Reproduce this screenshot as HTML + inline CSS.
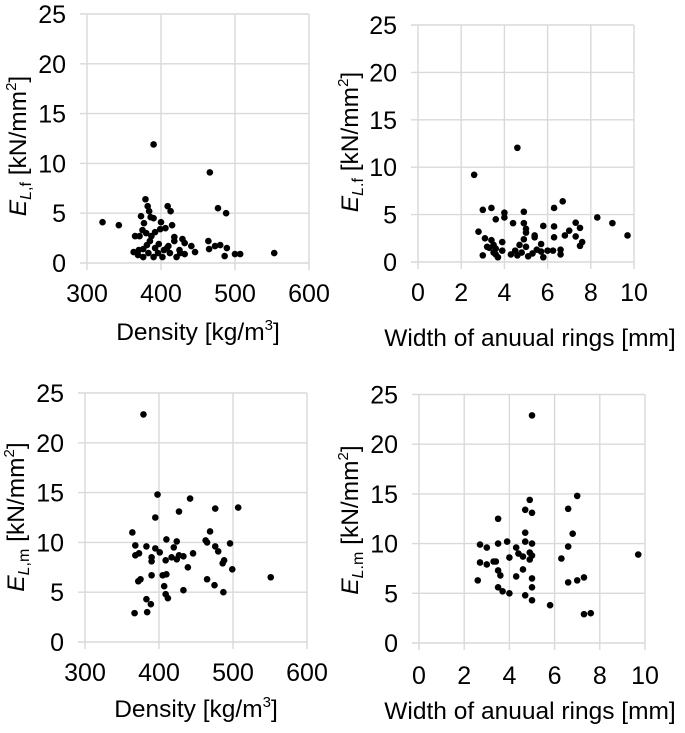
<!DOCTYPE html>
<html><head><meta charset="utf-8"><style>
html,body{margin:0;padding:0;background:#fff;}
svg{display:block;font-family:"Liberation Sans",Arial,sans-serif;}
</style></head><body>
<svg id="chart" width="685" height="733" viewBox="0 0 685 733"></svg>
<script>
// Panel A: density vs E_L,f
const densityA = [390,466,379,382,384,409,413,477,488,321,343,373,377,386,390,400,399,406,415,375,365,371,387,385,418,418,429,432,441,446,464,465,473,480,489,486,500,507,553,397,381,363,369,376,383,390,396,402,408,412,421,426,432,376,392,380,392,370,404,425,410];
const eLfA = [11.9,9.1,6.4,5.7,5.2,5.7,5.2,5.5,5.0,4.1,3.8,4.7,4.0,4.6,4.5,4.1,3.4,3.5,3.8,3.3,2.7,2.7,2.7,2.2,2.6,2.2,2.4,2.0,1.7,1.1,2.2,1.4,1.7,1.8,1.5,0.7,0.9,0.9,1.0,1.9,1.8,1.1,0.8,0.6,1.0,0.6,1.0,0.6,1.5,1.0,0.6,1.0,0.9,1.4,1.5,3.0,3.1,1.3,1.3,1.3,1.7];
// Panel B: ring width vs E_L,f
const ringB = [4.6,2.6,6.7,6.3,3.0,3.4,4.9,4.0,4.0,3.6,4.4,4.9,5.0,5.0,5.8,6.3,7.3,7.5,7.0,6.8,6.3,7.3,7.6,7.5,8.3,9.0,9.7,2.8,3.1,3.4,3.9,5.4,5.4,4.9,5.7,3.0,3.3,3.6,3.7,3.9,4.5,4.6,5.0,5.3,5.5,5.7,5.8,6.0,6.25,6.6,6.6,3.5,4.7,3.5,3.6,4.3,4.8,5.1,3.2];
const eLfB = [12.05,9.2,6.4,5.7,5.5,5.7,5.3,5.2,4.7,4.5,4.1,4.1,3.5,3.1,3.8,3.75,4.15,3.6,3.3,2.8,2.6,2.7,2.1,1.7,4.7,4.1,2.8,3.2,2.5,2.3,2.1,2.8,2.6,2.4,1.9,0.7,1.5,1.4,0.5,1.2,1.2,0.7,1.6,0.9,1.3,1.1,0.5,1.2,1.2,1.3,0.8,1.8,1.8,1.0,0.8,0.8,1.0,0.6,1.6];
// Panel C: density vs E_L,m
const densityC = [379,398,442,427,476,507,395,364,469,368,383,395,401,410,424,420,368,373,390,390,417,424,427,433,446,409,463,465,476,480,496,488,486,439,499,390,405,410,372,375,465,475,551,407,433,487,409,412,383,389,384,367];
const eLmC = [22.85,14.8,14.4,13.1,13.4,13.5,12.5,11.0,11.1,9.7,9.6,9.4,9.0,10.3,10.1,9.5,8.7,8.9,8.5,8.1,8.5,8.3,8.7,8.6,8.9,8.2,10.2,10.0,9.6,9.1,9.9,8.2,7.9,7.5,7.3,6.7,6.7,6.8,6.1,6.3,6.3,5.7,6.5,5.6,5.2,5.0,4.8,4.4,4.3,3.8,3.0,2.9];
// Panel D: ring width vs E_L,m
const ringD = [5.0,7.0,4.9,4.7,5.0,6.6,3.5,4.7,6.8,4.7,5.0,3.9,3.5,2.7,3.0,6.6,4.3,4.4,4.6,4.9,5.0,4.9,4.0,6.3,9.7,2.7,3.0,3.3,3.4,4.6,3.5,3.6,4.3,5.0,7.3,7.0,6.6,2.6,3.5,3.7,4.0,5.0,4.7,5.0,5.8,7.3,7.6];
const eLmD = [22.9,14.8,14.4,13.4,13.1,13.5,12.5,11.1,11.0,10.2,10.0,10.2,10.0,9.9,9.6,9.7,9.6,9.0,8.7,9.1,8.8,8.4,8.6,8.5,8.9,8.1,7.9,8.2,8.2,7.4,7.3,6.8,6.7,6.5,6.6,6.3,6.1,6.3,5.6,5.2,5.0,5.6,4.8,4.3,3.8,2.9,3.0];
const yTicks = [0,5,10,15,20,25];
const densityTicks = [300,400,500,600];
const ringTicks = [0,2,4,6,8,10];

const NS = "http://www.w3.org/2000/svg";
const svg = document.getElementById("chart");
function mk(tag, attrs, parent){
  const e = document.createElementNS(NS, tag);
  for (const k in attrs) e.setAttribute(k, attrs[k]);
  (parent||svg).appendChild(e);
  return e;
}
const panels = [
  {id:"a", xs:densityA, ys:eLfA, xt:densityTicks, xmin:300, xmax:600, px0:87, px1:309, py0:263, py1:14, lblOff:30, titleOff:68, yTx:17, yTy:146, xTitle:"Density [kg/m", sup:"3", xTitleX:198, sub:"L,f", gap:" "},
  {id:"b", xs:ringB, ys:eLfB, xt:ringTicks, xmin:0, xmax:10, px0:418, px1:634, py0:262, py1:25, lblOff:30, titleOff:75, yTx:349, yTy:142, xTitle:"Width of anuual rings [mm]", sup:"", xTitleX:530, sub:"L.f", gap:"  "},
  {id:"c", xs:densityC, ys:eLmC, xt:densityTicks, xmin:300, xmax:600, px0:85, px1:307, py0:642, py1:393, lblOff:30, titleOff:66, yTx:15, yTy:517, xTitle:"Density [kg/m", sup:"3", xTitleX:196, sub:"L,m", gap:" "},
  {id:"d", xs:ringD, ys:eLmD, xt:ringTicks, xmin:0, xmax:10, px0:419, px1:645, py0:643, py1:394.5, lblOff:32, titleOff:67, yTx:349, yTy:520, xTitle:"Width of anuual rings [mm]", sup:"", xTitleX:530, sub:"L.m", gap:" "}
];
panels.forEach(p=>{
  const g = mk("g",{});
  
  
  const X = v => p.px0 + (v - p.xmin)/(p.xmax - p.xmin)*(p.px1 - p.px0);
  const Y = v => p.py0 + v/25*(p.py1 - p.py0);
  yTicks.forEach(t=>{
    const l = mk("line",{x1:p.px0-7,x2:p.px1,y1:Y(t),y2:Y(t),stroke:"#d9d9d9","stroke-width":1.4},g);
    
    
    const tx = mk("text",{x:p.px0-21,y:Y(t)+9,"text-anchor":"end","font-size":25,fill:"#000"},g);
    tx.textContent = t;
    
    
  });
  p.xt.forEach(t=>{
    const l = mk("line",{x1:X(t),x2:X(t),y1:p.py1,y2:p.py0+7,stroke:"#d9d9d9","stroke-width":1.4},g);
    
    
    const tx = mk("text",{x:X(t),y:p.py0+p.lblOff+9,"text-anchor":"middle","font-size":25,fill:"#000"},g);
    tx.textContent = t;
    
    
  });
  p.xs.forEach((v,i)=>{
    const c = mk("circle",{cx:X(v),cy:Y(p.ys[i]),r:3.3,fill:"#000"},g);
    
    
  });
  const xt = mk("text",{x:p.xTitleX,y:p.py0+p.titleOff+9,"text-anchor":"middle","font-size":24.5,fill:"#000"},g);
  
  
  xt.appendChild(document.createTextNode(p.xTitle));
  if (p.sup){
    const s = mk("tspan",{"font-size":15,dy:-10},xt); s.textContent = p.sup;
    const e = mk("tspan",{dy:10},xt); e.textContent = "]";
  }
  const yt = mk("text",{transform:`translate(${p.yTx+9},${p.yTy}) rotate(-90)`,"text-anchor":"middle","font-size":24.5,fill:"#000"},g);
  
  
  const e1 = mk("tspan",{"font-style":"italic"},yt); e1.textContent = "E";
  const e2 = mk("tspan",{"font-size":16,dy:5,"font-style":"italic"},yt); e2.textContent = p.sub.charAt(0);
  const e3 = mk("tspan",{"font-size":16},yt); e3.textContent = p.sub.slice(1);
  const e4 = mk("tspan",{dy:-5},yt); e4.textContent = p.gap + "[kN/mm";
  const e5 = mk("tspan",{"font-size":15,dy:-10},yt); e5.textContent = "2";
  const e6 = mk("tspan",{dy:10},yt); e6.textContent = "]";
});
</script>
</body></html>
